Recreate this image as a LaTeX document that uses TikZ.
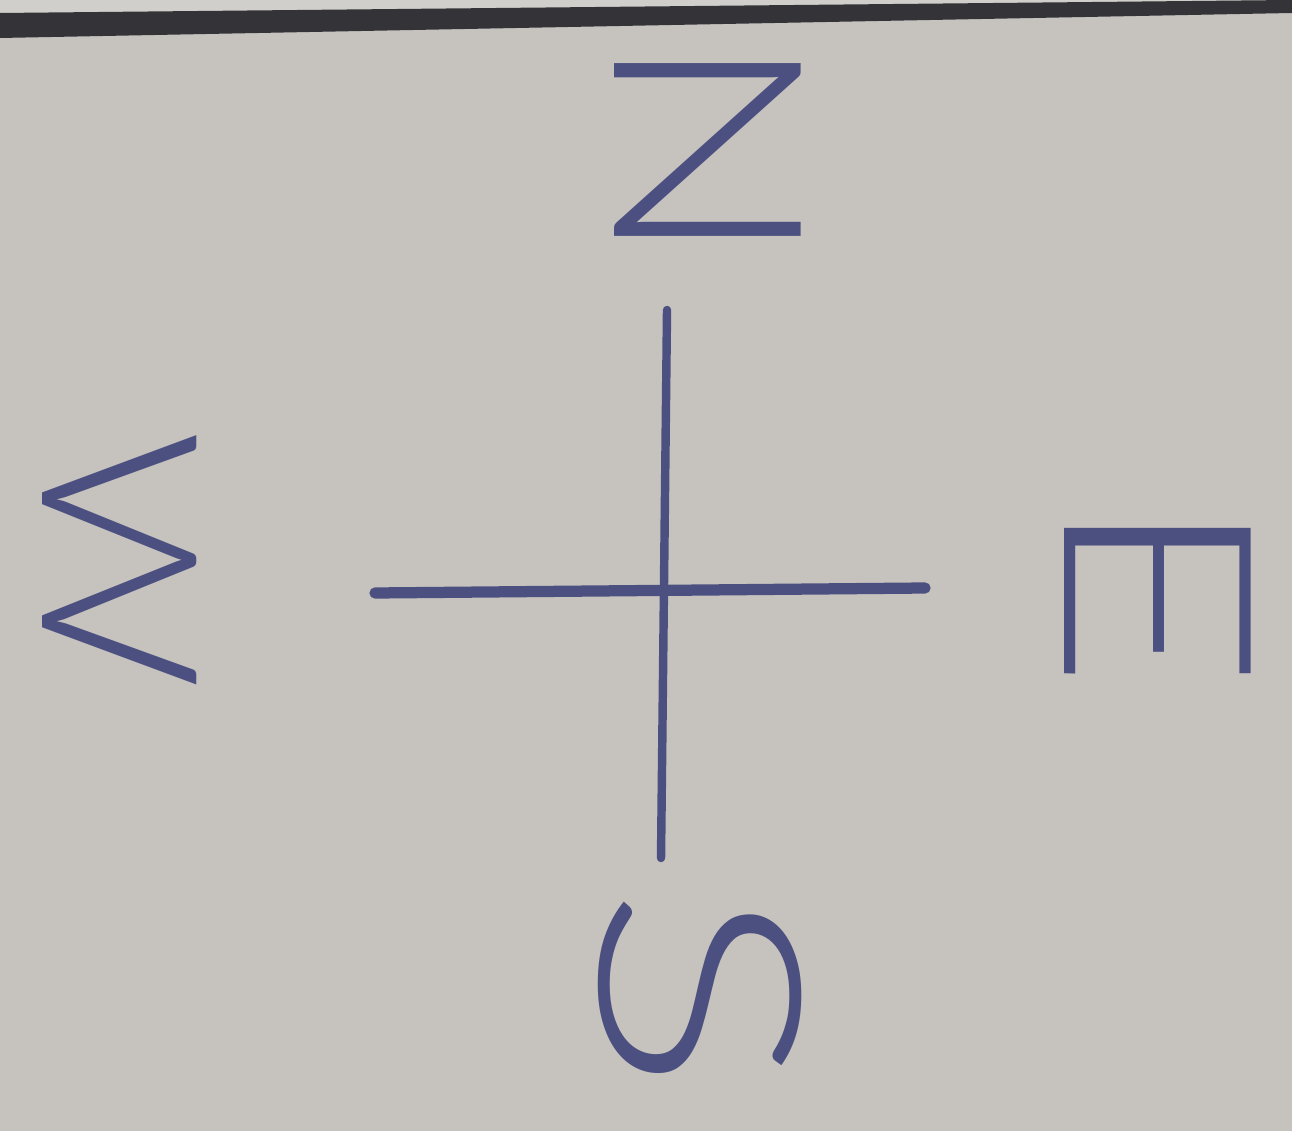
\documentclass[tikz,border=0pt]{standalone}
\usepackage{fontspec}
\setmainfont{Lato Light}
\usetikzlibrary{positioning}
\definecolor{paper}{RGB}{198,195,191}
\definecolor{edge}{RGB}{52,52,56}
\definecolor{ink}{RGB}{76,80,128}
\tikzset{
  every picture/.style={line join=round, line cap=round},
  pen/.style={draw=ink, line width=2.4pt},
  letter/.style={text=ink, inner sep=0pt, rotate=-90, font=\fontsize{75}{79}\selectfont},
}

\begin{document}
\begin{tikzpicture}[x=0.01cm,y=-0.01cm]
\useasboundingbox (0,0) rectangle (1292,1131);
\fill[paper] (0,0) rectangle (1292,1131);
% edge of the sheet
\fill[paper!80!white] (0,0) -- (1292,0) -- (0,14) -- cycle;
\fill[edge] (0,13) -- (1292,0) -- (1292,13) -- (0,38) -- cycle;

\coordinate (top) at (667,310);
\coordinate (bot) at (661,858);
\coordinate (lft) at (375,593);
\coordinate (rgt) at (925,588);
\draw[pen] (top) -- (bot);
\draw[pen, line width=3.2pt] (lft) -- (rgt);

\node[letter, xscale=1.2] (N) at (708,150) {N};
\node[letter, font=\fontsize{62}{66}\selectfont, xscale=1.18] (W) at (120,560) {W};
\node[letter, xscale=1.3] (E) at (1158,592) {E};
\node[letter, font=\fontsize{80}{84}\selectfont, xscale=1.4] (S) at (700,990) {S};
\end{tikzpicture}
\end{document}
